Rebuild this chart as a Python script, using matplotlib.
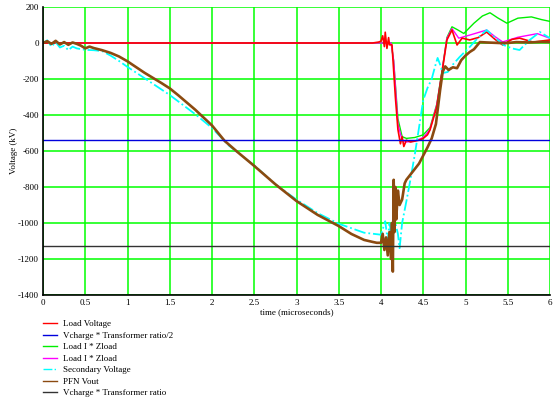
import matplotlib
matplotlib.use("Agg")
import matplotlib.pyplot as plt

plt.rcParams["font.family"] = ["Liberation Serif", "DejaVu Serif"]
plt.rcParams["axes.unicode_minus"] = False

# Data (time in microseconds, voltage in kV)
t_load = [0, 0.5, 1.0, 2.0, 3.0, 3.9, 3.97, 4.0, 4.02, 4.04, 4.05, 4.07, 4.09, 4.1, 4.13,
          4.17, 4.2, 4.23, 4.25, 4.27, 4.3, 4.35, 4.4, 4.45, 4.5, 4.55, 4.58, 4.66, 4.72,
          4.78, 4.84, 4.9, 4.96, 5.05, 5.15, 5.25, 5.35, 5.44, 5.55, 5.64, 5.8, 6.0]
load_voltage = [0, 0, 0, 0, 0, 0, 5, 10, 40, -20, 60, -30, 30, -10, -10,
                -300, -480, -560, -520, -575, -540, -550, -545, -540, -530, -510, -483, -355, -170,
                17, 72, -11, 27, 17, 30, 61, 20, -11, 20, 27, 5, 17]

t_zl = [0, 1.0, 2.0, 3.0, 4.0, 4.12, 4.15, 4.2, 4.25, 4.3, 4.4, 4.5, 4.58, 4.66, 4.72,
        4.78, 4.84, 4.9, 4.98, 5.1, 5.2, 5.29, 5.38, 5.49, 5.62, 5.78, 5.9, 6.0]
load_iz_green = [0, 0, 0, 0, 0, 0, -100, -420, -520, -530, -525, -510, -470, -340, -160,
                 30, 90, 75, 53, 110, 150, 168, 140, 110, 138, 145, 130, 120]

t_zl2 = [0, 1.0, 2.0, 3.0, 4.0, 4.12, 4.15, 4.2, 4.25, 4.3, 4.4, 4.5, 4.58, 4.66, 4.72,
         4.78, 4.84, 4.92, 5.05, 5.25, 5.35, 5.44, 5.62, 5.85, 6.0]
load_iz_magenta = [0, 0, 0, 0, 0, 0, -100, -450, -540, -550, -545, -525, -480, -345, -165,
                   25, 80, 27, 44, 72, 35, 6, 32, 52, 26]

t_sec = [0, 0.05, 0.1, 0.15, 0.2, 0.25, 0.3, 0.35, 0.4, 0.5, 0.6, 0.7, 0.8, 0.9, 1.0, 1.2,
         1.5, 1.8, 2.0, 2.2, 2.5, 2.75, 3.0, 3.25, 3.5, 3.8, 4.0, 4.05, 4.08, 4.1, 4.13, 4.17,
         4.2, 4.22, 4.25, 4.3, 4.34, 4.4, 4.45, 4.5, 4.55, 4.6, 4.64, 4.67, 4.7, 4.73, 4.79,
         4.85, 4.93, 5.05, 5.15, 5.25, 5.35, 5.45, 5.55, 5.64, 5.76, 5.88, 6.0]
secondary_voltage = [0, 15, -20, 5, -25, -15, -40, -20, -30, -38, -40, -45, -70, -100, -133, -195,
                     -289, -395, -472, -570, -680, -785, -870, -945, -1004, -1054, -1065, -990, -1100, -1000, -1080, -1000,
                     -1060, -1140, -1000, -880, -780, -620, -470, -317, -250, -200, -130, -83, -120, -167, -161,
                     -120, -78, -22, 30, 72, 30, -11, -30, -39, 17, 61, 27]

t_pfn = [0, 0.05, 0.1, 0.15, 0.2, 0.25, 0.3, 0.35, 0.4, 0.45, 0.5, 0.55, 0.6, 0.7, 0.8, 0.9,
         1.0, 1.2, 1.4, 1.5, 1.6, 1.8, 2.0, 2.15, 2.3, 2.5, 2.75, 3.0, 3.25, 3.5, 3.65, 3.8,
         3.9, 3.95, 4.0, 4.02, 4.04, 4.06, 4.08, 4.1, 4.12, 4.13, 4.14, 4.15, 4.16, 4.17, 4.18,
         4.2, 4.22, 4.25, 4.28, 4.3, 4.35, 4.4, 4.45, 4.5, 4.55, 4.6, 4.65, 4.7, 4.73, 4.76,
         4.8, 4.85, 4.9, 4.95, 5.0, 5.05, 5.1, 5.17, 5.25, 5.4, 5.5, 5.6, 5.75, 5.9, 6.0]
pfn_vout = [0, 10, -5, 12, -8, 5, -10, 3, -5, -15, -30, -20, -28, -40, -55, -75,
            -102, -165, -222, -252, -290, -370, -458, -544, -605, -683, -785, -878, -955, -1017, -1061, -1094,
            -1105, -1110, -1110, -1060, -1150, -1080, -1180, -1050, -1200, -1000, -1270, -760, -1050, -800, -980,
            -820, -900, -870, -780, -760, -730, -700, -670, -625, -580, -530, -450, -260, -160, -130,
            -150, -135, -140, -95, -70, -50, -35, 5, 3, 0, 0, 5, 3, 6, 5]

t_span = [0, 6]
vcharge_half = [-540, -540]
vcharge_full = [-1125, -1125]

fig = plt.figure(figsize=(5.53, 3.98), dpi=100)
ax = fig.add_axes([43 / 553, 1 - 295 / 398, 507 / 553, 288 / 398])

l_green, = ax.plot(t_zl, load_iz_green, color="#00ee00", lw=1.0, label="Load I * Zload")
l_mag, = ax.plot(t_zl2, load_iz_magenta, color="#ff00ff", lw=1.0, label="Load I * Zload")
l_red, = ax.plot(t_load, load_voltage, color="#ff0000", lw=1.2, label="Load Voltage")
l_cyan, = ax.plot(t_sec, secondary_voltage, color="#00ffff", lw=1.3, ls="-.", label="Secondary Voltage")
l_brown, = ax.plot(t_pfn, pfn_vout, color="#8b4a10", lw=1.9, label="PFN Vout")
l_blue, = ax.plot(t_span, vcharge_half, color="#0000dd", lw=1.0, label="Vcharge * Transformer ratio/2")
l_black, = ax.plot(t_span, vcharge_full, color="#333333", lw=1.0, label="Vcharge * Transformer ratio")

ax.set_xlim(0, 6)
ax.set_ylim(-1400, 200)
ax.set_xticks([0, 0.5, 1, 1.5, 2, 2.5, 3, 3.5, 4, 4.5, 5, 5.5, 6])
ax.set_xticklabels(["0", "0.5", "1", "1.5", "2", "2.5", "3", "3.5", "4", "4.5", "5", "5.5", "6"])
ax.set_yticks(range(-1400, 201, 200))
ax.grid(True, color="#00ff00", lw=1.1)
ax.set_axisbelow(True)
for s in ("top", "right"):
    ax.spines[s].set_visible(False)
ax.spines["left"].set_linewidth(1.2)
ax.spines["bottom"].set_linewidth(1.2)
ax.tick_params(length=0, labelsize=6.5, pad=3)
ax.set_xlabel("time (microseconds)", fontsize=6.5, labelpad=1)
ax.set_ylabel("Voltage (kV)", fontsize=6.5, labelpad=0)

handles = [l_red, l_blue, l_green, l_mag, l_cyan, l_brown, l_black]
leg = fig.legend(handles, [h.get_label() for h in handles], loc="upper left",
                 bbox_to_anchor=(43 / 553, 1 - 320 / 398), frameon=False, fontsize=6.5,
                 labelspacing=0.35, handlelength=1.55, handletextpad=0.65, borderpad=0,
                 borderaxespad=0)
for ln in leg.get_lines():
    ln.set_linewidth(1.0)

fig.savefig("out.png", dpi=100)
